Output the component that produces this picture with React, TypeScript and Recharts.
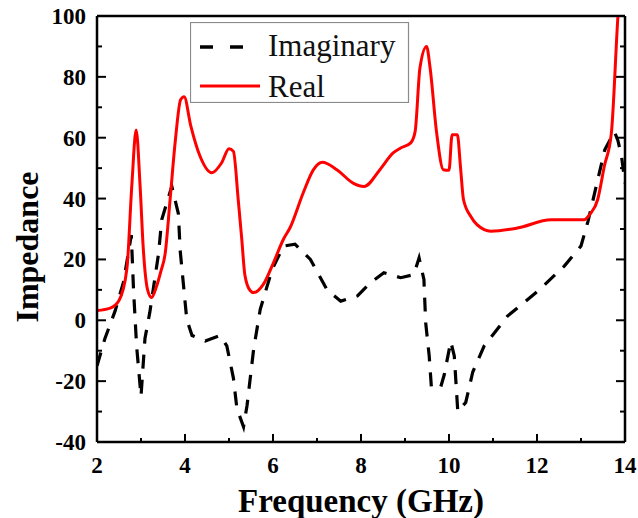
import React from 'react';
import { LineChart, Line, XAxis, YAxis, ReferenceLine, Legend } from 'recharts';

// ---- data ----
const realFreq = [2.0, 2.3, 2.5, 2.68, 2.79, 2.89, 2.98, 3.05, 3.15, 3.24, 3.35, 3.45, 3.55, 3.66, 3.78, 3.9, 3.98, 4.13, 4.34, 4.61, 4.83, 5.0, 5.1, 5.21, 5.29, 5.36, 5.48, 5.56, 5.78, 6.01, 6.24, 6.39, 6.69, 6.92, 7.12, 7.45, 7.83, 8.07, 8.43, 8.73, 8.9, 9.13, 9.23, 9.34, 9.49, 9.57, 9.72, 9.87, 10.0, 10.07, 10.19, 10.26, 10.33, 10.5, 10.8, 10.95, 11.55, 12.32, 13.07, 13.2, 13.38, 13.53, 13.69, 13.84, 13.9];
const realValues = [3.2, 4, 6.5, 17, 44, 62.5, 44, 24, 10, 7.5, 11, 16, 22, 39.5, 59, 72.5, 73.5, 64, 54, 48.5, 51.7, 56.4, 55.5, 39.6, 26.7, 15, 9.8, 9.1, 11.8, 18.9, 26.7, 30.5, 42, 49.5, 51.9, 49.5, 45, 44, 49.5, 55, 56.6, 58.3, 62, 83, 90, 83, 61.5, 49.5, 49.3, 61, 61, 50.6, 39.6, 34, 29.8, 29.3, 30.3, 33, 33, 34.8, 39.7, 50.6, 61.5, 100, 112];

const imagFreq = [2.0, 2.18, 2.41, 2.6, 2.78, 2.83, 2.9, 3.0, 3.09, 3.2, 3.4, 3.47, 3.7, 3.85, 3.89, 4.04, 4.16, 4.46, 4.8, 4.95, 5.1, 5.18, 5.33, 5.41, 5.56, 5.71, 5.98, 6.24, 6.5, 6.85, 7.23, 7.54, 7.92, 8.22, 8.52, 8.9, 9.2, 9.32, 9.43, 9.47, 9.55, 9.6, 9.81, 9.89, 10.04, 10.12, 10.2, 10.38, 10.54, 10.8, 11.33, 12.02, 12.62, 13.0, 13.16, 13.54, 13.76, 13.84, 13.92, 14.0];
const imagValues = [-15, -6, 3, 12.4, 28, 10, -8.4, -25, -6, 2.6, 22, 33, 44, 35, 23, 0.3, -5, -6.8, -5, -8.4, -19, -29, -35, -28, -9.5, 3.6, 16.7, 24.4, 25, 20, 10, 6.3, 8, 12.4, 15.6, 14, 15, 20.5, 13.4, -0.8, -11.7, -22, -22, -18, -7, -11.7, -30, -27, -17, -8.4, 1.4, 9.6, 17.8, 24.4, 32.6, 56, 62, 59, 54, 45];

const xTicks = [2, 3, 4, 5, 6, 7, 8, 9, 10, 11, 12, 13, 14];
const yTicks = [-40, -30, -20, -10, 0, 10, 20, 30, 40, 50, 60, 70, 80, 90, 100];
const xDomain = [2, 14];
const yDomain = [-40, 100];

const seriesNames = { imag: 'Imaginary', real: 'Real' };
const axisTitles = { x: 'Frequency (GHz)', y: 'Impedance' };

const realData = realFreq.map((x, i) => ({ x, y: realValues[i] }));
const imagData = imagFreq.map((x, i) => ({ x, y: imagValues[i] }));

// ---- layout ----
const W = 638;
const H = 518;
const MARGIN = { top: 16, right: 13, left: 0, bottom: 0 };
const PLOT_RIGHT = W - MARGIN.right;
const FONT = '"Liberation Serif", "Times New Roman", serif';

const XTick = (props: any) => {
  const { x, y, payload } = props;
  const v = payload.value;
  const major = v % 2 === 0;
  return (
    <g>
      <line x1={x} x2={x} y1={y} y2={y - (major ? 8 : 4)} stroke="#000" strokeWidth={2} />
      {major && (
        <text x={x} y={y + 31} textAnchor="middle" fontFamily={FONT} fontSize={23} fontWeight="bold" fill="#000">
          {v}
        </text>
      )}
    </g>
  );
};

const YTick = (props: any) => {
  const { x, y, payload } = props;
  const v = payload.value;
  const major = v % 20 === 0;
  const len = major ? 9 : 5;
  return (
    <g>
      <line x1={x} x2={x + len} y1={y} y2={y} stroke="#000" strokeWidth={2} />
      <line x1={PLOT_RIGHT} x2={PLOT_RIGHT - len} y1={y} y2={y} stroke="#000" strokeWidth={2} />
      {major && (
        <text x={x - 11} y={y + 8} textAnchor="end" fontFamily={FONT} fontSize={23} fontWeight="bold" fill="#000">
          {v}
        </text>
      )}
    </g>
  );
};

const renderLegend = (props: any) => {
  const payload = props.payload || [];
  return (
    <svg width={220} height={81} style={{ display: 'block' }}>
      <rect x={0.5} y={0.5} width={218} height={80} fill="#fff" stroke="#8a8a8a" strokeWidth={1.2} />
      {payload.map((entry: any, i: number) => {
        const cy = i === 0 ? 25 : 64;
        const dashed = entry.payload && entry.payload.strokeDasharray;
        return (
          <g key={i}>
            <line
              x1={10}
              x2={dashed ? 56 : 70}
              y1={cy}
              y2={cy}
              stroke={entry.color}
              strokeWidth={dashed ? 3.5 : 3}
              strokeDasharray={dashed ? '13 17' : undefined}
            />
            <text x={78} y={cy + 9 + (i === 0 ? 0 : 2)} fontFamily={FONT} fontSize={31} fill="#111">
              {entry.value}
            </text>
          </g>
        );
      })}
    </svg>
  );
};

export default function App() {
  return (
    <div style={{ width: W, height: H, background: '#fff' }}>
      <style>{`body{margin:0;}`}</style>
      <LineChart width={W} height={H} margin={MARGIN}>
        <XAxis
          type="number"
          dataKey="x"
          domain={xDomain}
          ticks={xTicks}
          interval={0}
          allowDataOverflow
          height={76}
          tickSize={0}
          tickMargin={0}
          tickLine={false}
          tick={<XTick />}
          axisLine={{ stroke: '#000', strokeWidth: 2.5 }}
          label={{
            value: axisTitles.x,
            position: 'insideBottom',
            offset: 6,
            style: { fontFamily: FONT, fontSize: 33, fontWeight: 'bold', fill: '#000' },
          }}
        />
        <YAxis
          type="number"
          domain={yDomain}
          ticks={yTicks}
          interval={0}
          allowDataOverflow
          width={97}
          tickSize={0}
          tickMargin={0}
          tickLine={false}
          tick={<YTick />}
          axisLine={{ stroke: '#000', strokeWidth: 2.5 }}
          label={{
            value: axisTitles.y,
            angle: -90,
            position: 'center',
            dx: -22,
            dy: 18,
            style: { fontFamily: FONT, fontSize: 32, fontWeight: 'bold', fill: '#000', textAnchor: 'middle' },
          }}
        />
        <ReferenceLine y={100} stroke="#000" strokeWidth={2.5} />
        <ReferenceLine x={14} stroke="#000" strokeWidth={2.5} />
        <Legend
          layout="horizontal"
          verticalAlign="middle"
          align="center"
          content={renderLegend}
          wrapperStyle={{ position: 'absolute', left: 190, top: 22, width: 220, height: 81 }}
        />
        <Line
          data={imagData}
          dataKey="y"
          name={seriesNames.imag}
          type="linear"
          stroke="#000"
          strokeWidth={3.2}
          strokeDasharray="14 11"
          dot={false}
          activeDot={false}
          isAnimationActive={false}
        />
        <Line
          data={realData}
          dataKey="y"
          name={seriesNames.real}
          type="monotone"
          stroke="#ff0000"
          strokeWidth={3}
          dot={false}
          activeDot={false}
          isAnimationActive={false}
        />
      </LineChart>
    </div>
  );
}
